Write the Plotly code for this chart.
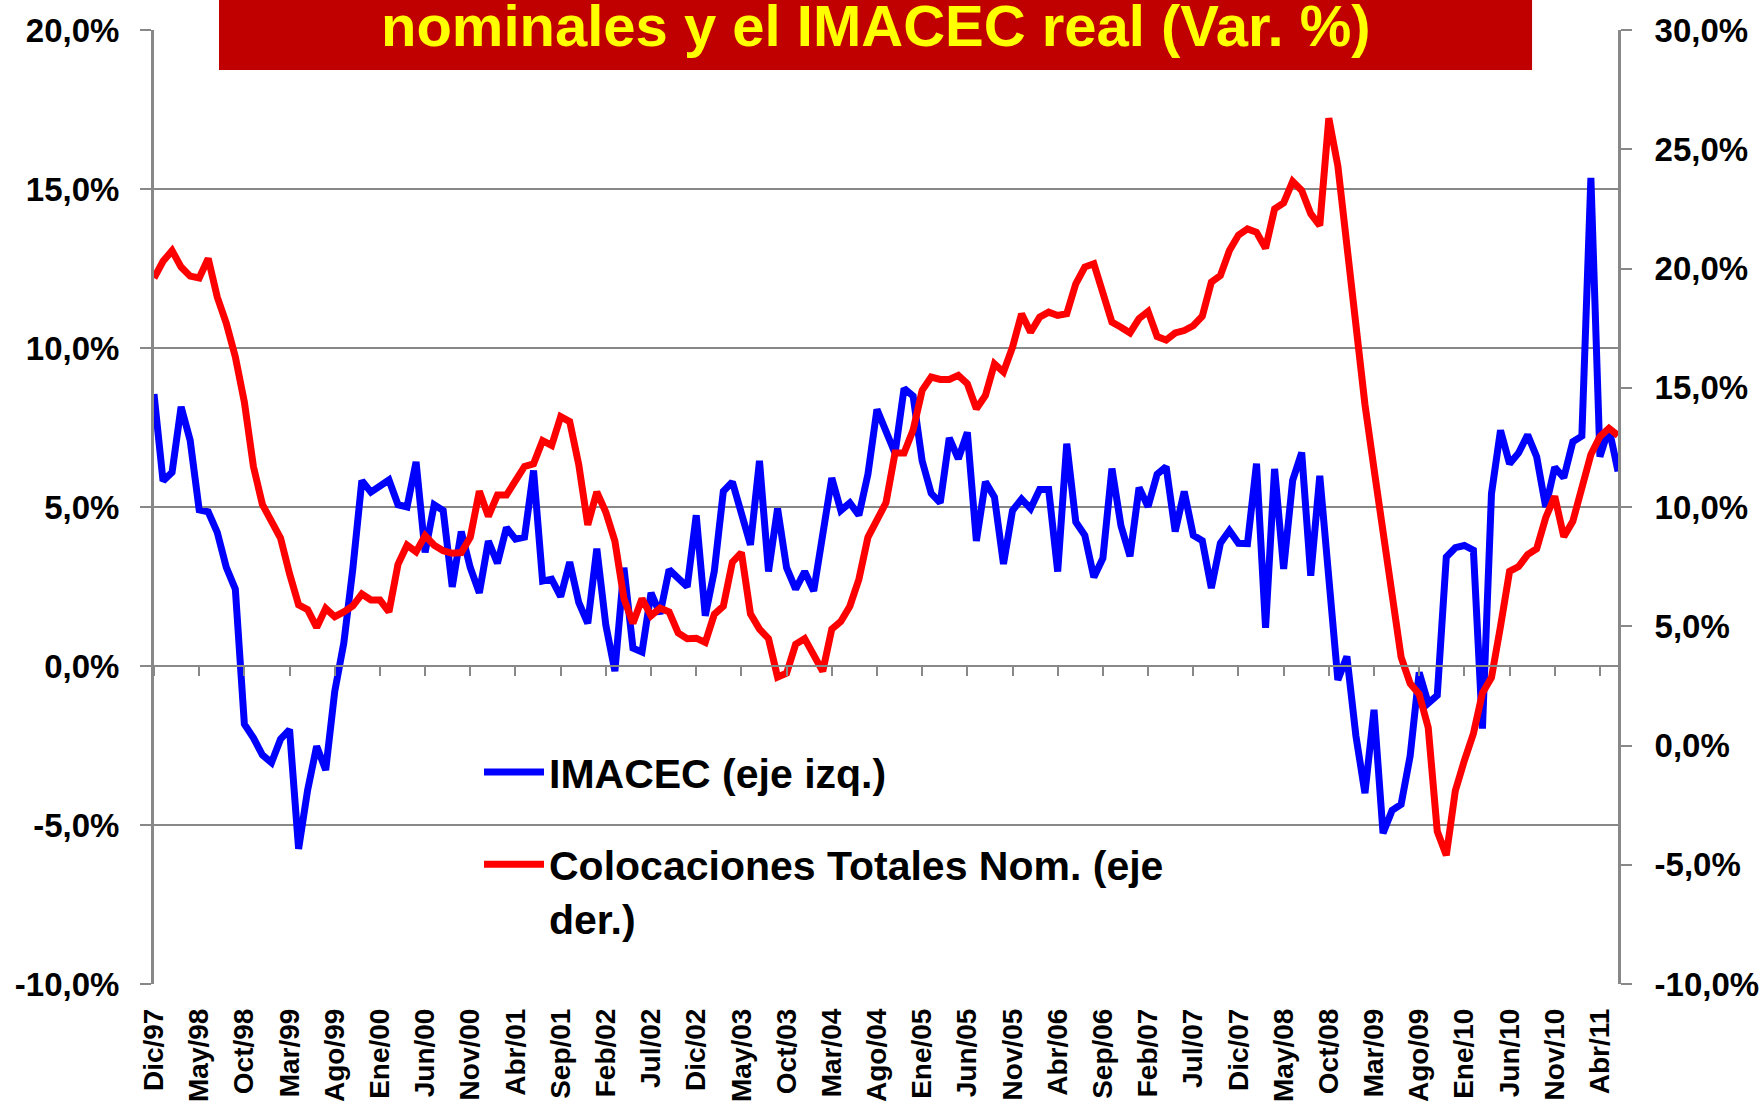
import plotly.graph_objects as go

# --- categories: monthly, Dic/97 .. Jun/11 ---
meses = ["Ene", "Feb", "Mar", "Abr", "May", "Jun", "Jul", "Ago", "Sep", "Oct", "Nov", "Dic"]
fechas = [f"{meses[(11 + k) % 12]}/{(97 + (11 + k) // 12) % 100:02d}" for k in range(163)]

# IMACEC real, var. % (left axis)
imacec = [
    8.55, 5.82, 6.09, 8.15, 7.1, 4.91, 4.85, 4.2, 3.1, 2.42,
    -1.83, -2.26, -2.8, -3.04, -2.3, -2.0, -5.75, -3.9, -2.52, -3.27,
    -0.8, 0.72, 3.05, 5.83, 5.47, 5.67, 5.85, 5.07, 5.0, 6.42,
    3.57, 5.07, 4.89, 2.49, 4.23, 3.09, 2.3, 3.93, 3.23, 4.35,
    3.99, 4.05, 6.15, 2.67, 2.73, 2.18, 3.27, 2.0, 1.34, 3.69,
    1.28, -0.16, 3.09, 0.56, 0.44, 2.3, 1.64, 3.03, 2.79, 2.49,
    4.74, 1.58, 2.98, 5.49, 5.79, 4.71, 3.81, 6.45, 2.97, 4.95,
    3.09, 2.42, 2.97, 2.36, 4.17, 5.91, 4.89, 5.13, 4.74, 6.03,
    8.07, 7.41, 6.69, 8.73, 8.49, 6.45, 5.43, 5.13, 7.17, 6.51,
    7.35, 3.93, 5.79, 5.31, 3.21, 4.89, 5.25, 4.95, 5.55, 5.55,
    2.97, 6.99, 4.53, 4.11, 2.79, 3.39, 6.21, 4.41, 3.45, 5.61,
    5.01, 6.03, 6.27, 4.23, 5.49, 4.11, 3.94, 2.45, 3.86, 4.26,
    3.86, 3.85, 6.36, 1.2, 6.2, 3.05, 5.84, 6.71, 2.84, 5.98,
    2.84, -0.44, 0.3, -2.2, -4.0, -1.38, -5.26, -4.54, -4.35, -2.83,
    -0.2, -1.17, -0.92, 3.43, 3.72, 3.79, 3.64, -1.97, 5.42, 7.41,
    6.36, 6.7, 7.27, 6.58, 5.0, 6.25, 5.92, 7.05, 7.23, 15.35,
    6.58, 7.48, 6.12,
]

# Colocaciones totales nominales, var. % (right axis)
colocaciones = [
    19.6, 20.3, 20.75, 20.06, 19.68, 19.6, 20.42, 18.8, 17.7, 16.3,
    14.4, 11.7, 10.1, 9.4, 8.7, 7.2, 5.9, 5.7, 4.95, 5.75,
    5.4, 5.6, 5.85, 6.35, 6.1, 6.1, 5.6, 7.6, 8.4, 8.12,
    8.8, 8.4, 8.17, 8.06, 8.09, 8.73, 10.66, 9.61, 10.5, 10.5,
    11.17, 11.7, 11.81, 12.78, 12.58, 13.79, 13.58, 11.78, 9.25, 10.63,
    9.78, 8.57, 6.16, 5.12, 6.16, 5.44, 5.76, 5.6, 4.72, 4.48,
    4.5, 4.32, 5.5, 5.84, 7.69, 8.09, 5.52, 4.88, 4.48, 2.87,
    3.03, 4.24, 4.48, 3.84, 3.11, 4.88, 5.2, 5.84, 6.97, 8.73,
    9.45, 10.18, 12.26, 12.26, 13.23, 14.89, 15.45, 15.35, 15.35, 15.52,
    15.17, 14.12, 14.68, 16.0, 15.66, 16.7, 18.1, 17.33, 17.96, 18.17,
    18.03, 18.1, 19.36, 20.06, 20.2, 18.94, 17.75, 17.54, 17.3, 17.9,
    18.2, 17.15, 17.0, 17.3, 17.4, 17.6, 18.0, 19.43, 19.7, 20.75,
    21.4, 21.66, 21.52, 20.85, 22.5, 22.75, 23.65, 23.27, 22.3, 21.8,
    26.3, 24.3, 21.0, 17.3, 14.3, 11.6, 8.9, 6.1, 3.7, 2.6,
    2.15, 0.75, -3.6, -4.6, -1.9, -0.63, 0.5, 2.2, 2.85, 5.0,
    7.3, 7.5, 8.0, 8.25, 9.55, 10.45, 8.75, 9.4, 10.9, 12.2,
    12.95, 13.3, 13.0,
]

# tick labels
izq_vals = [-10, -5, 0, 5, 10, 15, 20]
izq_text = ["-10,0%", "-5,0%", "0,0%", "5,0%", "10,0%", "15,0%", "20,0%"]
der_vals = [-10, -5, 0, 5, 10, 15, 20, 25, 30]
der_text = ["-10,0%", "-5,0%", "0,0%", "5,0%", "10,0%", "15,0%", "20,0%", "25,0%", "30,0%"]
x_ticks = fechas[::5]

titulo = "nominales y el IMACEC real (Var. %)"

FONT = "Liberation Sans, Arial, sans-serif"
GRIS = "#888888"

fig = go.Figure()

fig.add_trace(go.Scatter(
    x=fechas, y=imacec, mode="lines",
    line=dict(color="#0000FF", width=7),
    name="IMACEC (eje izq.)", legendgroup="a",
))
fig.add_trace(go.Scatter(
    x=fechas, y=colocaciones, mode="lines", yaxis="y2",
    line=dict(color="#FF0000", width=7),
    name="Colocaciones Totales Nom. (eje<br>der.)", legendgroup="b",
))
# empty trace so the category axis line at 0% gets drawn with its ticks
fig.add_trace(go.Scatter(x=[], y=[], xaxis="x2", showlegend=False, hoverinfo="skip"))

tick_font = dict(family=FONT, size=33, color="black", weight="bold")

fig.update_layout(
    width=1762, height=1109,
    margin=dict(l=154, r=144, t=30, b=125, autoexpand=False),
    paper_bgcolor="white", plot_bgcolor="white",
    font=dict(family=FONT, color="black"),
    xaxis=dict(
        type="category", range=[0, len(fechas) - 1], automargin=False,
        tickmode="array", tickvals=x_ticks, ticktext=x_ticks,
        tickangle=-90, tickfont=dict(family=FONT, size=28, color="black", weight="bold"),
        showgrid=False, showline=False, ticks="", ticklabelstandoff=18,
    ),
    xaxis2=dict(
        overlaying="x", anchor="free", position=1 / 3, automargin=False,
        range=[0, len(fechas) - 1], tickmode="linear", tick0=0, dtick=5,
        showticklabels=False, ticks="outside", ticklen=9, tickwidth=2, tickcolor=GRIS,
        showline=True, linecolor=GRIS, linewidth=2, showgrid=False, zeroline=False,
    ),
    yaxis=dict(
        range=[-10, 20], tickmode="array", tickvals=izq_vals, ticktext=izq_text,
        automargin=False,
        tickfont=tick_font, showgrid=True, gridcolor=GRIS, gridwidth=2,
        showline=True, linecolor=GRIS, linewidth=3, zeroline=False,
        ticks="outside", ticklen=11, tickwidth=2, tickcolor=GRIS, ticklabelstandoff=14,
    ),
    yaxis2=dict(
        overlaying="y", side="right", anchor="x", automargin=False,
        range=[-10, 30], tickmode="array", tickvals=der_vals, ticktext=der_text,
        tickfont=tick_font, showgrid=False, zeroline=False,
        showline=True, linecolor=GRIS, linewidth=3,
        ticks="outside", ticklen=11, tickwidth=2, tickcolor=GRIS, ticklabelstandoff=16,
    ),
    legend=dict(
        x=0.222, y=0.257, xanchor="left", yanchor="top",
        bgcolor="rgba(0,0,0,0)", borderwidth=0, valign="top",
        font=dict(family=FONT, size=41, color="black", weight="bold"),
        traceorder="grouped", tracegroupgap=36, itemwidth=60,
    ),
    shapes=[dict(
        type="rect", xref="paper", yref="paper",
        x0=0.0444, x1=0.9413, y0=0.958, y1=1.06,
        fillcolor="#C00000", line=dict(width=0), layer="above",
    )],
    annotations=[dict(
        text=titulo, xref="paper", yref="paper", x=0.4932, y=1.005,
        xanchor="center", yanchor="middle", showarrow=False,
        font=dict(family=FONT, size=58, color="#FFFF00", weight="bold"),
    )],
    showlegend=True,
)

fig.write_html(
    "out.html",
    config={"displayModeBar": False},
    post_script="document.body.style.margin='0';",
)
